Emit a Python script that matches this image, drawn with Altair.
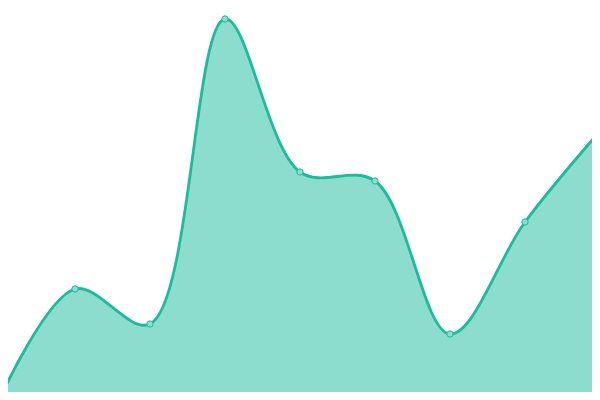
import altair as alt
import pandas as pd

idx = [0, 1, 2, 3, 4, 5, 6, 7, 8]
values = [0.5, 27.75, 19, 95.25, 57, 54.75, 16.5, 44.5, 67.25]

df = pd.DataFrame({"i": idx, "v": values})

TEAL = "#1abc9c"

x = alt.X("i:Q", axis=None, scale=alt.Scale(domain=[8 / 75, 592 / 75], nice=False, zero=False))
y = alt.Y("v:Q", axis=None, scale=alt.Scale(domain=[2, 98], nice=False, zero=False))

base = alt.Chart(df).encode(x=x, y=y)

area = base.mark_area(interpolate="catmull-rom", color=TEAL, opacity=0.5, clip=True).encode(y2=alt.datum(0))
line = base.mark_line(interpolate="catmull-rom", color=TEAL, strokeWidth=2.8, clip=True)
pts = base.mark_point(filled=True, fill="#8ddece", stroke=TEAL, strokeWidth=1,
                      size=40, opacity=1, clip=True)

chart = (
    alt.layer(area, line, pts)
    .properties(width=584, height=384, padding=0, autosize=alt.AutoSizeParams(type="none"),
                view=alt.ViewBackground(stroke="transparent", strokeWidth=0))
    .configure_view(stroke="transparent", strokeWidth=0)
    .configure(background="white")
)

chart.save("out.html", embed_options={"renderer": "svg", "actions": False})
